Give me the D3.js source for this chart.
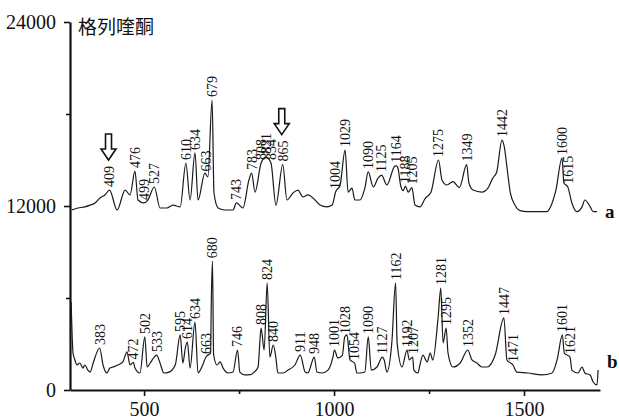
<!DOCTYPE html>
<html>
<head>
<meta charset="utf-8">
<script src="https://cdn.jsdelivr.net/npm/d3@7/dist/d3.min.js"></script>
<style>
  html, body { margin: 0; padding: 0; background: #ffffff; }
  svg { display: block; }
</style>
</head>
<body>
<svg id="chart" width="619" height="420"></svg>
<script>
// ---------------- data ----------------
const title = "格列喹酮";
const xTicks = [500, 750, 1000, 1250, 1500];
const xTickLabels = [500, 1000, 1500];
const yTicks = [0, 6000, 12000, 18000, 24000];
const yTickLabels = [0, 12000, 24000];
const seriesNames = ["a", "b"];

// spectrum a (Raman shift cm-1, intensity as plotted, offset trace)
const spectrumA = [
  [310,11740],[326,11870],[344,11940],[358,12060],[371,12200],[384,12520],[397,12720],[409,13040],
  [429,11740],[450,13040],[463,12720],[476,14280],[484,12390],[499,12200],[510,12390],[527,13240],
  [542,11870],[560,11870],[576,12060],[595,11940],[610,14800],[621,12390],[634,15460],[642,12390],
  [660,14150],[668,13890],[679,18910],[684,12850],[695,11870],[713,11740],[734,11740],[743,12200],
  [760,11870],[776,13700],[783,14150],[792,12910],[808,14800],[821,15200],[834,14800],[847,12060],
  [865,14700],[876,12390],[892,12850],[905,13040],[918,12590],[931,12720],[950,12390],[963,12060],
  [981,11940],[995,12060],[1004,12910],[1016,13370],[1029,15650],[1037,12910],[1047,13170],[1055,12390],
  [1068,12390],[1081,13170],[1090,14220],[1103,13240],[1116,13830],[1125,14020],[1139,13370],[1160,14600],
  [1164,14620],[1168,14500],[1175,13370],[1182,13000],[1188,13300],[1195,12900],[1205,13200],[1213,12060],
  [1226,11940],[1240,12500],[1255,12900],[1275,15000],[1284,13700],[1297,13370],[1313,13590],[1330,13200],
  [1349,14700],[1355,13500],[1366,13040],[1389,12910],[1405,13170],[1418,13830],[1428,14200],[1442,16300],
  [1448,15870],[1456,14350],[1464,12850],[1476,12070],[1490,11700],[1508,11630],[1560,11630],[1574,12200],
  [1584,13040],[1600,15130],[1605,13500],[1615,13260],[1626,12200],[1639,11630],[1653,11960],[1660,12390],
  [1674,11960],[1682,11630],[1692,11630]
];

// spectrum b
const spectrumB = [
  [308,5740],[313,2410],[318,1960],[323,1630],[331,1760],[339,1430],[344,1630],[352,1300],[358,1170],
  [366,1760],[383,2740],[392,1630],[402,1110],[410,1430],[418,1500],[431,1630],[444,1830],[455,2480],
  [463,1630],[472,1800],[476,1430],[489,1110],[502,3460],[508,1500],[516,1760],[525,2090],[533,2280],
  [542,1760],[552,1110],[566,1170],[582,1630],[595,3590],[602,1760],[609,2800],[614,3130],[621,1430],
  [634,4430],[642,1110],[652,1500],[663,2150],[668,2280],[675,2400],[677,5900],[680,8400],[683,2300],
  [692,1630],[700,1830],[708,1430],[721,1110],[734,1170],[746,2610],[752,1170],[766,980],[780,1000],
  [790,1170],[800,1500],[805,3260],[808,4040],[816,2610],[824,6980],[831,2150],[840,2930],[847,2090],
  [852,1110],[866,1110],[879,1300],[897,1630],[911,2280],[924,1170],[931,1110],[948,2150],[955,1170],
  [968,1110],[984,1300],[997,2150],[1001,2610],[1010,2090],[1022,2280],[1028,3460],[1034,3590],[1042,1960],
  [1054,1760],[1060,1110],[1068,1110],[1081,1170],[1090,3460],[1098,1300],[1113,1500],[1127,2150],
  [1132,1960],[1139,1170],[1152,3070],[1162,6980],[1166,3070],[1179,1500],[1192,2610],[1198,1960],
  [1207,2150],[1210,1300],[1221,1110],[1226,1630],[1234,2280],[1245,1830],[1253,2410],[1260,1960],
  [1274,4760],[1281,6650],[1287,3070],[1295,4040],[1300,2410],[1313,1500],[1332,1760],[1352,2610],
  [1363,1960],[1376,1760],[1389,1500],[1403,1500],[1424,2280],[1447,4700],[1455,1960],[1471,1630],
  [1481,1170],[1510,1110],[1547,980],[1574,1110],[1587,1960],[1601,3590],[1606,2410],[1621,2150],
  [1626,1300],[1642,1110],[1653,1500],[1660,1110],[1674,980],[1682,520],[1692,330],[1695,1300]
];

const peaksA = [409,476,499,527,610,634,663,679,743,783,808,821,834,865,1004,1029,1090,1125,1164,1188,1205,1275,1349,1442,1600,1615];
const peaksB = [383,472,502,533,595,614,634,663,680,746,808,824,840,911,948,1001,1028,1054,1090,1127,1162,1192,1207,1281,1295,1352,1447,1471,1601,1621];
const arrowPeaksA = [409, 865];

// ---------------- layout ----------------
const svg = d3.select("#chart");
const x = d3.scaleLinear().domain([305, 1700]).range([70, 600]);
const y = d3.scaleLinear().domain([0, 24000]).range([390, 22]);
const serif = "'Liberation Serif', 'Times New Roman', serif";

// axes
const yAxis = d3.axisLeft(y).tickValues(yTicks).tickSize(6).tickSizeOuter(0).tickPadding(8)
  .tickFormat(d => yTickLabels.includes(d) ? String(d) : "");
const gy = svg.append("g").attr("transform", "translate(70,0)").call(yAxis);
gy.select(".domain").attr("stroke", "#111").attr("stroke-width", 2.2);
gy.selectAll(".tick line").attr("stroke", "#111").attr("stroke-width", 1.6)
  .attr("x2", d => yTickLabels.includes(d) ? -6 : -4);
gy.selectAll(".tick text").attr("font-family", serif).attr("font-size", 20).attr("fill", "#111");

const xAxis = d3.axisBottom(x).tickValues(xTicks).tickSize(6).tickSizeOuter(0).tickPadding(6)
  .tickFormat(d => xTickLabels.includes(d) ? String(d) : "");
const gx = svg.append("g").attr("transform", "translate(0,390)").call(xAxis);
gx.select(".domain").attr("stroke", "#111").attr("stroke-width", 2.2);
gx.selectAll(".tick line").attr("stroke", "#111").attr("stroke-width", 1.6)
  .attr("y2", d => xTickLabels.includes(d) ? 6 : 4);
gx.selectAll(".tick text").attr("font-family", serif).attr("font-size", 20).attr("fill", "#111");

// title
svg.append("text").attr("x", 78).attr("y", 34)
  .attr("font-family", "'Noto Sans CJK SC', sans-serif").attr("font-size", 19).attr("fill", "#111")
  .text(title);

// spectra
const line = d3.line().curve(d3.curveMonotoneX).x(d => x(d[0])).y(d => y(d[1]));
[spectrumA, spectrumB].forEach(s => {
  svg.append("path").datum(s).attr("d", line)
    .attr("fill", "none").attr("stroke", "#1a1a1a").attr("stroke-width", 1.2)
    .attr("stroke-linejoin", "round");
});

// series names
const lastA = spectrumA[spectrumA.length - 1], lastB = spectrumB[spectrumB.length - 1];
svg.append("text").attr("x", 605).attr("y", y(lastA[1])).attr("dy", "0.35em")
  .attr("font-family", serif).attr("font-weight", "bold").attr("font-size", 19).attr("fill", "#111")
  .text(seriesNames[0]);
svg.append("text").attr("x", 607).attr("y", y(lastB[1] + 600)).attr("dy", "0.35em")
  .attr("font-family", serif).attr("font-weight", "bold").attr("font-size", 19).attr("fill", "#111")
  .text(seriesNames[1]);

// peak labels
function valueAt(s, w) {
  const i = d3.bisector(d => d[0]).left(s, w);
  if (i <= 0) return s[0][1];
  if (i >= s.length) return s[s.length - 1][1];
  const a = s[i - 1], b = s[i];
  return a[1] + (b[1] - a[1]) * (w - a[0]) / (b[0] - a[0]);
}
function drawLabels(s, peaks) {
  const g = svg.append("g");
  peaks.forEach(p => {
    const px = x(p), py = y(valueAt(s, p)) - 3;
    g.append("text")
      .attr("transform", `translate(${px},${py}) rotate(-90)`)
      .attr("dy", "0.35em")
      .attr("font-family", serif).attr("font-size", 14).attr("fill", "#111")
      .text(String(p));
  });
}
drawLabels(spectrumA, peaksA);
drawLabels(spectrumB, peaksB);

// hollow arrows above marked peaks
arrowPeaksA.forEach(p => {
  const px = x(p) - 1;
  const bottom = y(valueAt(spectrumA, p)) - 3 - 22 - 5;
  const top = bottom - 26;
  const shaftW = 3, headW = 7.5, headH = 11;
  const path = d3.path();
  path.moveTo(px - shaftW, top);
  path.lineTo(px + shaftW, top);
  path.lineTo(px + shaftW, bottom - headH);
  path.lineTo(px + headW, bottom - headH);
  path.lineTo(px, bottom);
  path.lineTo(px - headW, bottom - headH);
  path.lineTo(px - shaftW, bottom - headH);
  path.closePath();
  svg.append("path").attr("d", path.toString())
    .attr("fill", "#fff").attr("stroke", "#111").attr("stroke-width", 1.6).attr("stroke-linejoin", "miter");
});
</script>
</body>
</html>
